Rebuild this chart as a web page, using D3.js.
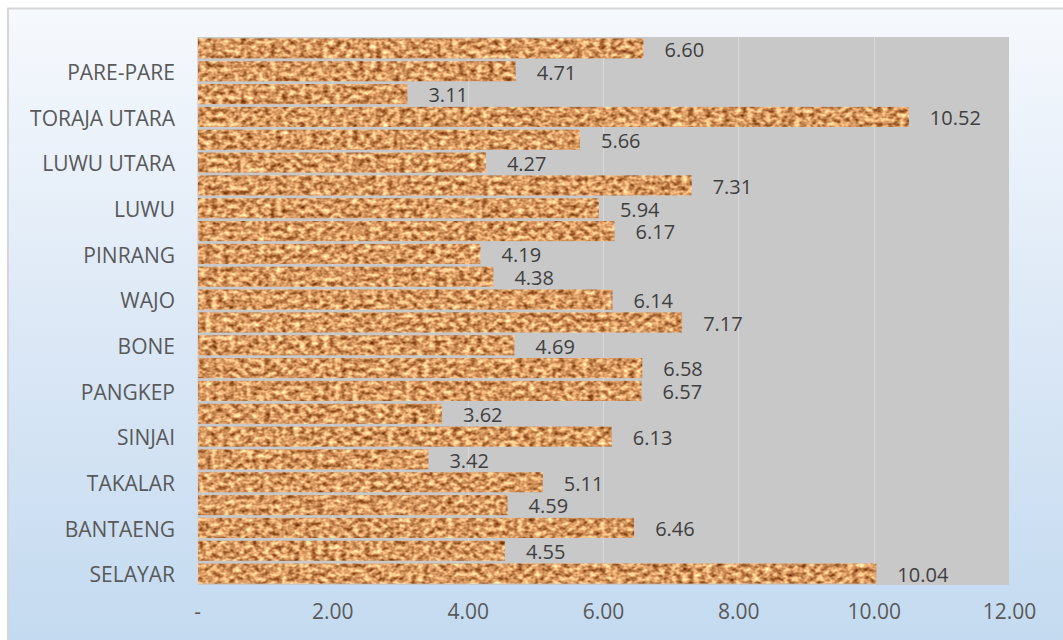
<!DOCTYPE html>
<html>
<head>
<meta charset="utf-8">
<script src="https://cdn.jsdelivr.net/npm/d3@7"></script>
<style>
  html, body { margin: 0; padding: 0; background: #ffffff; }
  svg { display: block; }
  text { font-family: "Open Sans", "Liberation Sans", sans-serif; }
</style>
</head>
<body>
<div id="chart"></div>
<script>
// Regencies / cities, listed bottom to top
const categories = [
  "SELAYAR", "BULUKUMBA", "BANTAENG", "JENEPONTO", "TAKALAR", "GOWA",
  "SINJAI", "MAROS", "PANGKEP", "BARRU", "BONE", "SOPPENG",
  "WAJO", "SIDRAP", "PINRANG", "ENREKANG", "LUWU", "TANA TORAJA",
  "LUWU UTARA", "LUWU TIMUR", "TORAJA UTARA", "MAKASSAR", "PARE-PARE", "PALOPO"
];
const values = [
  10.04, 4.55, 6.46, 4.59, 5.11, 3.42,
  6.13, 3.62, 6.57, 6.58, 4.69, 7.17,
  6.14, 4.38, 4.19, 6.17, 5.94, 7.31,
  4.27, 5.66, 10.52, 3.11, 4.71, 6.60
];
const xTicks = [0, 2, 4, 6, 8, 10, 12];
const xDomain = [0, 12];

const W = 1063, H = 640;
const plot = { left: 197, right: 1009, top: 37, bottom: 585 };

const svg = d3.select("#chart").append("svg")
  .attr("width", W).attr("height", H);

const defs = svg.append("defs");

// Chart area background: pale to light blue, top to bottom
const bg = defs.append("linearGradient").attr("id", "bgGrad")
  .attr("x1", 0).attr("y1", 0).attr("x2", 0).attr("y2", 1);
bg.append("stop").attr("offset", "0%").attr("stop-color", "#f6f9fd");
bg.append("stop").attr("offset", "50%").attr("stop-color", "#dce8f6");
bg.append("stop").attr("offset", "100%").attr("stop-color", "#c3daf0");

// Grainy tan texture for the bars
const f = defs.append("filter").attr("id", "grain")
  .attr("x", 0).attr("y", 0).attr("width", 1).attr("height", 1)
  .attr("color-interpolation-filters", "sRGB");
f.append("feTurbulence").attr("type", "fractalNoise")
  .attr("baseFrequency", "0.17 0.22").attr("numOctaves", 2).attr("seed", 11)
  .attr("result", "noise");
f.append("feColorMatrix").attr("in", "noise").attr("type", "matrix")
  .attr("values", [
    "1.05 0 0 0 0.32",
    "1.1 0 0 0 0.05",
    "1.0 0 0 0 -0.12",
    "0 0 0 0 1"
  ].join(" "))
  .attr("result", "tint");
f.append("feComposite").attr("in", "tint").attr("in2", "SourceGraphic")
  .attr("operator", "in");

// Chart area
svg.append("rect")
  .attr("x", 8).attr("y", 8.5)
  .attr("width", W).attr("height", H)
  .attr("fill", "url(#bgGrad)")
  .attr("stroke", "#d6d6d6").attr("stroke-width", 2);

const x = d3.scaleLinear().domain(xDomain).range([plot.left, plot.right]);
const y = d3.scaleBand()
  .domain(d3.range(categories.length).reverse())
  .range([plot.top, plot.bottom])
  .paddingInner(0.12).paddingOuter(0.06);

// Plot area
svg.append("rect")
  .attr("x", plot.left).attr("y", plot.top)
  .attr("width", plot.right - plot.left).attr("height", plot.bottom - plot.top)
  .attr("fill", "#c8c8c8");

// Vertical gridlines
svg.append("g").selectAll("line")
  .data(xTicks.filter(t => t > 0 && t < xDomain[1]))
  .join("line")
  .attr("x1", d => Math.round(x(d)) + 0.5).attr("x2", d => Math.round(x(d)) + 0.5)
  .attr("y1", plot.top).attr("y2", plot.bottom)
  .attr("stroke", "#d9d9d9").attr("stroke-width", 1);

// Bars
svg.append("g").selectAll("rect")
  .data(values)
  .join("rect")
  .attr("x", x(0))
  .attr("y", (d, i) => y(i))
  .attr("width", d => x(d) - x(0))
  .attr("height", y.bandwidth())
  .attr("fill", "#d49a66")
  .attr("filter", "url(#grain)");

// Category axis line
svg.append("line")
  .attr("x1", plot.left + 0.5).attr("x2", plot.left + 0.5)
  .attr("y1", plot.top).attr("y2", plot.bottom)
  .attr("stroke", "#d9d9d9").attr("stroke-width", 1);

// Value labels
svg.append("g").selectAll("text")
  .data(values)
  .join("text")
  .attr("x", d => x(d) + 21)
  .attr("y", (d, i) => y(i) + y.bandwidth() / 2 + 3)
  .attr("dominant-baseline", "middle")
  .attr("font-size", 20)
  .attr("fill", "#404040")
  .text(d => d.toFixed(2));

// Category labels, every second category
const yAxis = d3.axisLeft(y)
  .tickValues(d3.range(0, categories.length, 2))
  .tickFormat(i => categories[i])
  .tickSize(0).tickPadding(22);
const ya = svg.append("g").attr("transform", `translate(${plot.left},0)`).call(yAxis);
ya.select(".domain").remove();
ya.selectAll("text")
  .attr("font-size", 21).attr("fill", "#595959")
  .attr("dy", "0.42em")
  .attr("font-family", "'Open Sans', 'Liberation Sans', sans-serif");

// Value axis labels
const xAxis = d3.axisBottom(x)
  .tickValues(xTicks)
  .tickFormat(d => d === 0 ? "-" : d.toFixed(2))
  .tickSize(0).tickPadding(19);
const xa = svg.append("g").attr("transform", `translate(0,${plot.bottom})`).call(xAxis);
xa.select(".domain").remove();
xa.selectAll("text")
  .attr("font-size", 21).attr("fill", "#595959")
  .attr("font-family", "'Open Sans', 'Liberation Sans', sans-serif");
</script>
</body>
</html>
